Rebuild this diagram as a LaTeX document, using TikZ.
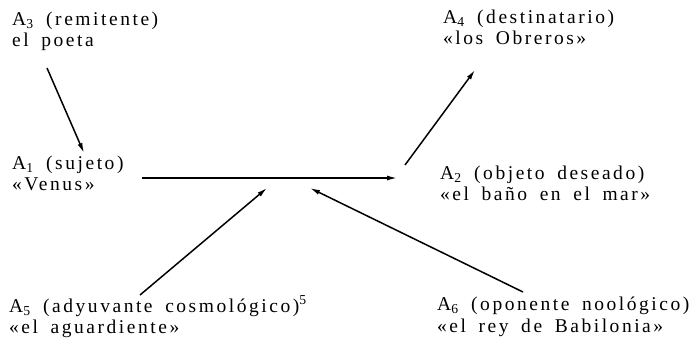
\documentclass[tikz,border=0pt]{standalone}
\usepackage{fontspec}
\setmainfont{Liberation Serif}[LetterSpace=13, WordSpace=1.7]
\usetikzlibrary{arrows.meta}

\begin{document}
\begin{tikzpicture}[x=1pt, y=1pt, >={Latex[length=10pt, width=5pt]},
  actant/.style={anchor=base west, inner sep=0pt, align=left, font=\fontsize{19.5}{21.5}\selectfont},
  link/.style={->, line width=1.5pt}]
	\useasboundingbox (0,0) rectangle (697,362);
	\node[actant] (a3) at (12,315) {A\textsubscript{3} (remitente)\\el poeta};
	\node[actant] (a4) at (443,317) {A\textsubscript{4} (destinatario)\\«los Obreros»};
	\node[actant] (a1) at (12,171) {A\textsubscript{1} (sujeto)\\«Venus»};
	\node[actant] (a2) at (440,161) {A\textsubscript{2} (objeto deseado)\\«el baño en el mar»};
	\node[actant] (a5) at (9,28) {A\textsubscript{5} (adyuvante cosmológico)\textsuperscript{5}\\«el aguardiente»};
	\node[actant] (a6) at (437,30) {A\textsubscript{6} (oponente noológico)\\«el rey de Babilonia»};
	\coordinate (s3) at (47,294);  \coordinate (t3) at (84,209);
	\coordinate (s1) at (142,184); \coordinate (t1) at (397,184);
	\coordinate (s4) at (405,197); \coordinate (t4) at (475,292);
	\coordinate (s5) at (140,67);  \coordinate (t5) at (267,174);
	\coordinate (s6) at (523,70);  \coordinate (t6) at (310,174);
	\draw[link] (s3) -- (t3);
	\draw[link] (s1) -- (t1);
	\draw[link] (s4) -- (t4);
	\draw[link] (s5) -- (t5);
	\draw[link] (s6) -- (t6);
\end{tikzpicture}
\end{document}
